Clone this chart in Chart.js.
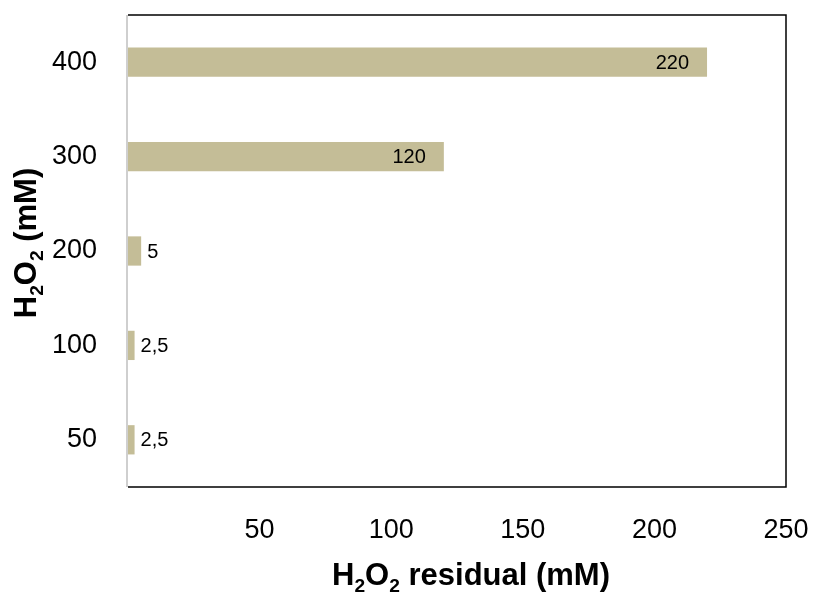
<!DOCTYPE html>
<html>
<head>
<meta charset="utf-8">
<script src="https://cdn.jsdelivr.net/npm/chart.js@4/dist/chart.umd.min.js"></script>
<style>
  html, body { margin: 0; padding: 0; background: #fff; }
  #wrap { width: 813px; height: 595px; }
</style>
</head>
<body>
<div id="wrap"><canvas id="chart" width="813" height="595"></canvas></div>
<script>
// H2O2 dose (mM), bottom to top
const categories = ["50", "100", "200", "300", "400"];
// residual H2O2 (mM)
const residual = [2.5, 2.5, 5, 120, 220];
const xTicks = [50, 100, 150, 200, 250];

const FONT = "'Liberation Sans', Arial, sans-serif";
const barColor = "#C4BD97";

// rich text with subscripts, drawn on the canvas
function drawRich(ctx, parts, cx, baseY, size) {
    let total = 0;
    parts.forEach(p => {
        ctx.font = "bold " + (p.sub ? size * 0.62 : size) + "px " + FONT;
        p.w = ctx.measureText(p.t).width;
        total += p.w;
    });
    let x = cx - total / 2;
    ctx.textAlign = "left";
    ctx.textBaseline = "alphabetic";
    parts.forEach(p => {
        ctx.font = "bold " + (p.sub ? size * 0.62 : size) + "px " + FONT;
        ctx.fillText(p.t, x, baseY + (p.sub ? size * 0.22 : 0));
        x += p.w;
    });
}

function noPad(axis) {
    axis.paddingTop = 0;
    axis.paddingBottom = 0;
    axis.paddingLeft = 0;
    axis.paddingRight = 0;
}

const extras = {
    id: "extras",
    afterDatasetsDraw(chart) {
        const ctx = chart.ctx;
        const a = chart.chartArea;
        ctx.save();
        // frame
        ctx.lineWidth = 1.5;
        ctx.strokeStyle = "#000";
        ctx.beginPath();
        ctx.moveTo(a.left, a.top);
        ctx.lineTo(a.right, a.top);
        ctx.lineTo(a.right, a.bottom);
        ctx.lineTo(a.left, a.bottom);
        ctx.stroke();
        ctx.strokeStyle = "#BFBFBF";
        ctx.beginPath();
        ctx.moveTo(a.left - 1, a.top);
        ctx.lineTo(a.left - 1, a.bottom);
        ctx.stroke();

        // value labels
        const meta = chart.getDatasetMeta(0);
        ctx.fillStyle = "#000";
        ctx.font = "20px " + FONT;
        ctx.textBaseline = "middle";
        meta.data.forEach((bar, i) => {
            const v = residual[i];
            const txt = String(v).replace(".", ",");
            if (v > 50) {
                ctx.textAlign = "right";
                ctx.fillText(txt, bar.x - 18, bar.y + 1);
            } else {
                ctx.textAlign = "left";
                ctx.fillText(txt, bar.x + 6, bar.y + 1);
            }
        });

        // axis titles
        drawRich(ctx, [{ t: "H" }, { t: "2", sub: true }, { t: "O" }, { t: "2", sub: true }, { t: " residual (mM)" }], 471, 585, 31);
        ctx.translate(36, 243);
        ctx.rotate(-Math.PI / 2);
        drawRich(ctx, [{ t: "H" }, { t: "2", sub: true }, { t: "O" }, { t: "2", sub: true }, { t: " (mM)" }], 0, 0, 31);
        ctx.restore();
    }
};

new Chart(document.getElementById("chart"), {
    type: "bar",
    data: {
        labels: categories,
        datasets: [{
            data: residual,
            backgroundColor: barColor,
            borderWidth: 0,
            categoryPercentage: 1,
            barPercentage: 0.31
        }]
    },
    options: {
        indexAxis: "y",
        responsive: false,
        animation: false,
        layout: { padding: { top: 15, right: 27, left: 0, bottom: 0 } },
        plugins: {
            legend: { display: false },
            tooltip: { enabled: false }
        },
        scales: {
            x: {
                min: 0,
                max: 250,
                afterBuildTicks: axis => { axis.ticks = [0].concat(xTicks).map(v => ({ value: v })); },
                afterFit: axis => { axis.height = 108; noPad(axis); },
                grid: { display: false, drawTicks: false },
                border: { display: false },
                ticks: {
                    color: "#000",
                    font: { family: FONT, size: 27 },
                    padding: 27,
                    maxRotation: 0,
                    callback: v => (v === 0 ? "" : v)
                }
            },
            y: {
                reverse: true,
                afterFit: axis => { axis.width = 128; noPad(axis); },
                grid: { display: false, drawTicks: false },
                border: { display: false },
                ticks: {
                    color: "#000",
                    font: { family: FONT, size: 27 },
                    padding: 31
                }
            }
        }
    },
    plugins: [extras]
});
</script>
</body>
</html>
